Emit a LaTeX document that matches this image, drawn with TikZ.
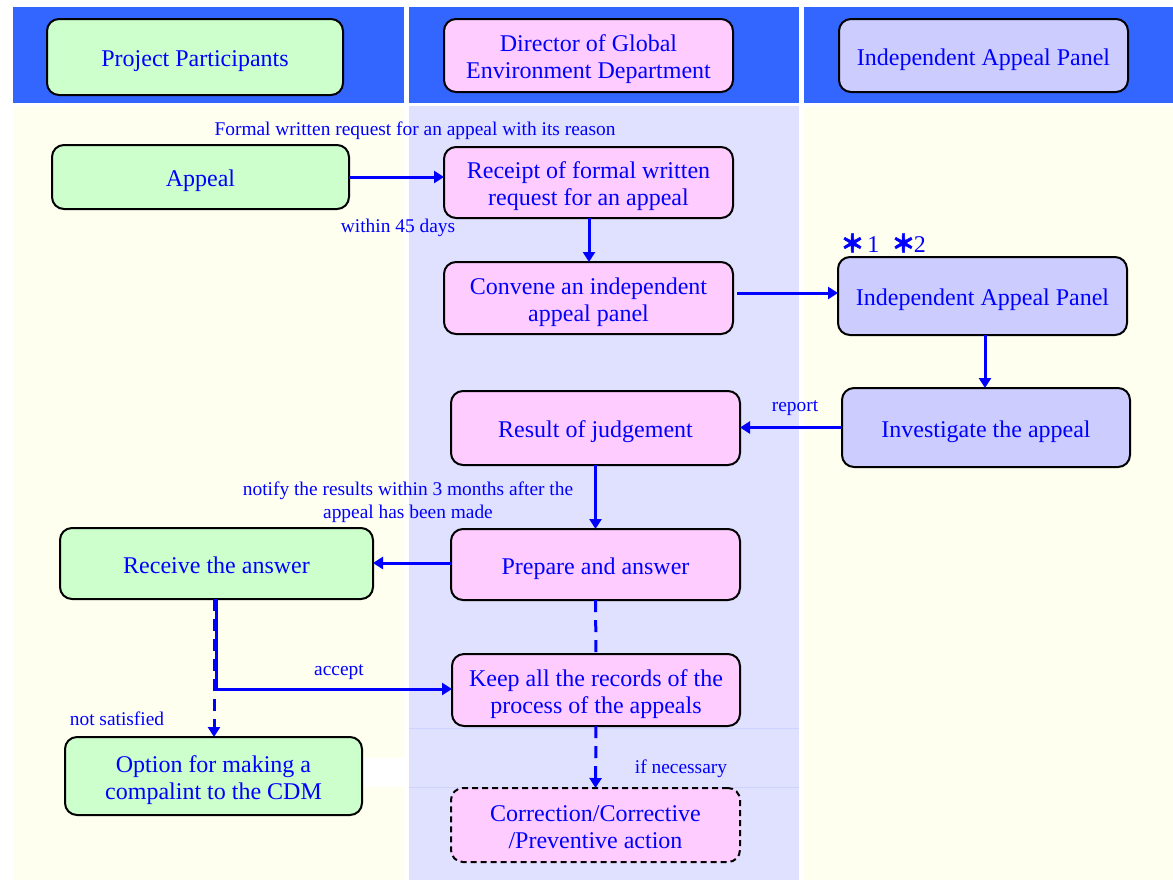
\documentclass[tikz,border=0pt]{standalone}
\usepackage{fontspec}
\setmainfont{Liberation Serif}
\newfontfamily\cjkfont{Noto Sans CJK JP}[FakeBold=2.5]
\usetikzlibrary{arrows.meta}
\definecolor{hdrblue}{RGB}{51,102,255}
\definecolor{cream}{RGB}{255,255,240}
\definecolor{lav}{RGB}{224,224,255}
\definecolor{gfill}{RGB}{204,255,204}
\definecolor{pfill}{RGB}{255,204,255}
\definecolor{lfill}{RGB}{204,204,255}
\definecolor{txtblue}{RGB}{0,0,255}
\definecolor{faint}{RGB}{205,210,255}
\tikzset{
  box/.style={draw=black, line width=1pt, rounded corners=6pt, inner sep=0pt, outer sep=0pt,
    align=center, text=txtblue, font=\fontsize{12}{13.5}\selectfont},
  lbl/.style={text=txtblue, font=\fontsize{9.7}{11}\selectfont, align=center, inner sep=0pt},
  flow/.style={draw=txtblue, line width=1.5pt, -{Triangle[length=5pt,width=6pt]}},
  plainflow/.style={draw=txtblue, line width=1.5pt},
  dflow/.style={draw=txtblue, line width=1.5pt, dash pattern=on 6pt off 4pt}
}
\newcommand{\bxtext}[1]{\raisebox{-2.2pt}[\height][\depth]{\begin{tabular}{@{}c@{}}#1\end{tabular}}}
\newcommand{\bx}[7]{\node[box, fill=#6, minimum width=#4*0.5pt, minimum height=#5*0.5pt] (#1) at (#2,#3) {\bxtext{#7}};}
\begin{document}
\begin{tikzpicture}[x=0.5pt,y=-0.5pt]
\useasboundingbox (0,0) rectangle (1173,880);
\fill[white] (0,0) rectangle (1173,880);
% columns
\fill[hdrblue] (13,7) rectangle (404,103);
\fill[hdrblue] (409,7) rectangle (799,103);
\fill[hdrblue] (804,7) rectangle (1173,103);
\fill[cream] (13,106) rectangle (404,880);
\fill[lav] (409,106) rectangle (799,880);
\fill[cream] (804,106) rectangle (1173,880);
% faint artifacts
\draw[faint, line width=0.4pt] (409,728) -- (799,728);
\draw[faint, line width=0.4pt] (409,787) -- (799,787);
\fill[white] (362,758) rectangle (409,787);
% header boxes
\bx{hPP}{195}{57}{296}{76}{gfill}{Project Participants}
\bx{hDir}{588.5}{55.5}{289}{73}{pfill}{Director of Global\\Environment Department}
\bx{hIAP}{983.5}{55.5}{289}{73}{lfill}{Independent Appeal Panel}
% body boxes
\bx{appeal}{200.5}{177}{297}{64}{gfill}{Appeal}
\bx{receipt}{588.5}{182.5}{289}{71}{pfill}{Receipt of formal written\\request for an appeal}
\bx{convene}{588.5}{298}{289}{72}{pfill}{Convene an independent\\appeal panel}
\bx{iap}{982.5}{296}{289}{78}{lfill}{Independent Appeal Panel}
\bx{invest}{986}{427.5}{288}{79}{lfill}{Investigate the appeal}
\bx{result}{595.5}{428}{289}{74}{pfill}{Result of judgement}
\bx{receive}{216.5}{563.5}{313}{71}{gfill}{Receive the answer}
\bx{prepare}{595.5}{564.5}{289}{71}{pfill}{Prepare and answer}
\bx{keep}{596}{690}{288}{72}{pfill}{Keep all the records of the\\process of the appeals}
\bx{option}{213.5}{776}{297}{78}{gfill}{Option for making a\\compalint to the CDM}
\node[box, fill=pfill, dashed, dash pattern=on 3pt off 2pt, minimum width=144.5pt, minimum height=37pt] (correct) at (595.5,825) {\bxtext{Correction/Corrective\\/Preventive action}};
% labels
\node[lbl] (l1) at (415,131) {Formal written request for an appeal with its reason};
\node[lbl] (l2) at (398,228) {within 45 days};
\node[text=txtblue, inner sep=0pt, anchor=west, font=\fontsize{12}{13}\selectfont] (stars) at (840,243) {{\cjkfont\bfseries ＊}\hspace{1.5pt}1\hspace{6pt}{\cjkfont\bfseries ＊}\hspace{-0.8pt}2};
\node[lbl] (l3) at (795,408) {report};
\node[lbl] (l4) at (408,502) {notify the results within 3 months after the\\[0.6pt]appeal has been made};
\node[lbl] (l5) at (339,672) {accept};
\node[lbl] (l6) at (117,719) {not satisfied};
\node[lbl] (l7) at (681,769) {if necessary};
% connectors
\coordinate (rcvb) at (214,599);
\coordinate (optt) at (214,737);
\coordinate (split) at (216,689);
\coordinate (rcvb2) at (216,599);
\draw[flow] (appeal.east) -- (receipt.west |- appeal.east);
\draw[flow] (receipt.south -| 589,0) -- (convene.north -| 589,0);
\draw[flow, shorten <=2pt] (convene.east |- 0,293) -- (iap.west |- 0,293);
\draw[flow] (iap.south -| 985,0) -- (invest.north -| 985,0);
\draw[flow] (invest.west) -- (result.east |- invest.west);
\draw[flow] (result.south) -- (prepare.north);
\draw[flow] (prepare.west |- 0,563) -- (receive.east |- 0,563);
\draw[dflow] (prepare.south) -- (keep.north);
\draw[dflow, -{Triangle[length=5pt,width=6pt]}] (keep.south) -- (correct.north);
\draw[plainflow] (rcvb2) -- (split);
\draw[flow] (split) -- (keep.west |- split);
\draw[dflow, -{Triangle[length=5pt,width=6pt]}] (rcvb) -- (optt);
\end{tikzpicture}
\end{document}
